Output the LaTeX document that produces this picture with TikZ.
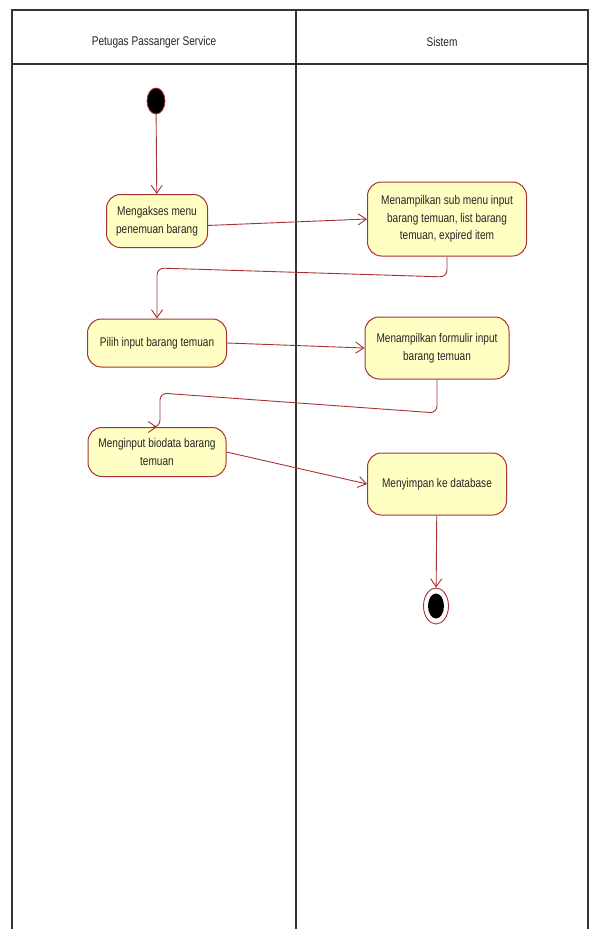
\documentclass[tikz,border=0pt]{standalone}
\usepackage{fontspec}
\setmainfont{Liberation Sans}[FakeStretch=0.8]
\usepackage{tikz}
\usetikzlibrary{positioning, arrows, arrows.meta, shapes.geometric}
\definecolor{actfill}{HTML}{FFFFC4}
\definecolor{actline}{HTML}{A83232}
\definecolor{lanegray}{HTML}{333333}

\begin{document}
\begin{tikzpicture}[x=1pt, y=-1pt,
  act/.style={draw=actline, fill=actfill, line width=1pt, rounded corners=14pt, align=center, inner sep=2pt, text=black!85, font=\fontsize{12.6}{17.6}\selectfont},
  flow/.style={draw=actline, line width=0.9pt, -{Straight Barb[length=8pt,width=11pt]}},
  lane/.style={draw=lanegray, line width=1.3pt},
  lanetitle/.style={text=black!85, font=\fontsize{12.6}{14}\selectfont}]
\useasboundingbox (0,0) rectangle (589,929);

\draw[lane] (12,929) -- (12,10) -- (588,10) -- (588,929);
\draw[lane] (12,64) -- (588,64);
\draw[lane] (296,10) -- (296,929);
\node[lanetitle] (pps) at (154,42) {Petugas Passanger Service};
\node[lanetitle] (sis) at (442,42) {Sistem};

\node[ellipse, draw=actline, fill=black, line width=0.8pt, minimum width=18pt, minimum height=26pt, inner sep=0pt] (start) at (156,101) {};
\node[act, minimum width=101pt, minimum height=53pt] (akses) at (157,221) {Mengakses menu\\penemuan barang};
\node[act, minimum width=159pt, minimum height=74pt] (submenu) at (447,219) {Menampilkan sub menu input\\barang temuan, list barang\\temuan, expired item};
\node[act, minimum width=139pt, minimum height=48pt] (pilih) at (157,343) {Pilih input barang temuan};
\node[act, minimum width=144pt, minimum height=62pt] (formulir) at (437,348) {Menampilkan formulir input\\barang temuan};
\node[act, minimum width=138pt, minimum height=49pt] (biodata) at (157,452) {Menginput biodata barang\\temuan};
\node[act, minimum width=139pt, minimum height=62pt] (simpan) at (437,484) {Menyimpan ke database};
\node[ellipse, draw=actline, fill=white, line width=0.9pt, minimum width=25pt, minimum height=36pt, inner sep=0pt] (end) at (436,606) {};
\node[ellipse, fill=black, minimum width=16pt, minimum height=25pt, inner sep=0pt] (endin) at (436,606) {};

\draw[flow] (start) -- (akses);
\draw[flow] (akses.-5) -- (submenu.west);
\draw[flow, rounded corners=7pt] (submenu.south) -- (submenu.south |- 0,277) -- (pilih.north |- 0,268) -- (pilih.north);
\draw[flow] (pilih.east) -- (formulir.west);
\draw[flow, rounded corners=7pt] (formulir.south) -- (formulir.south |- 0,413) -- (160,393) -- (biodata.north -| 160,0) -- (biodata.north);
\draw[flow] (biodata.east) -- (simpan.west);
\draw[flow] (simpan) -- (end);
\end{tikzpicture}
\end{document}
